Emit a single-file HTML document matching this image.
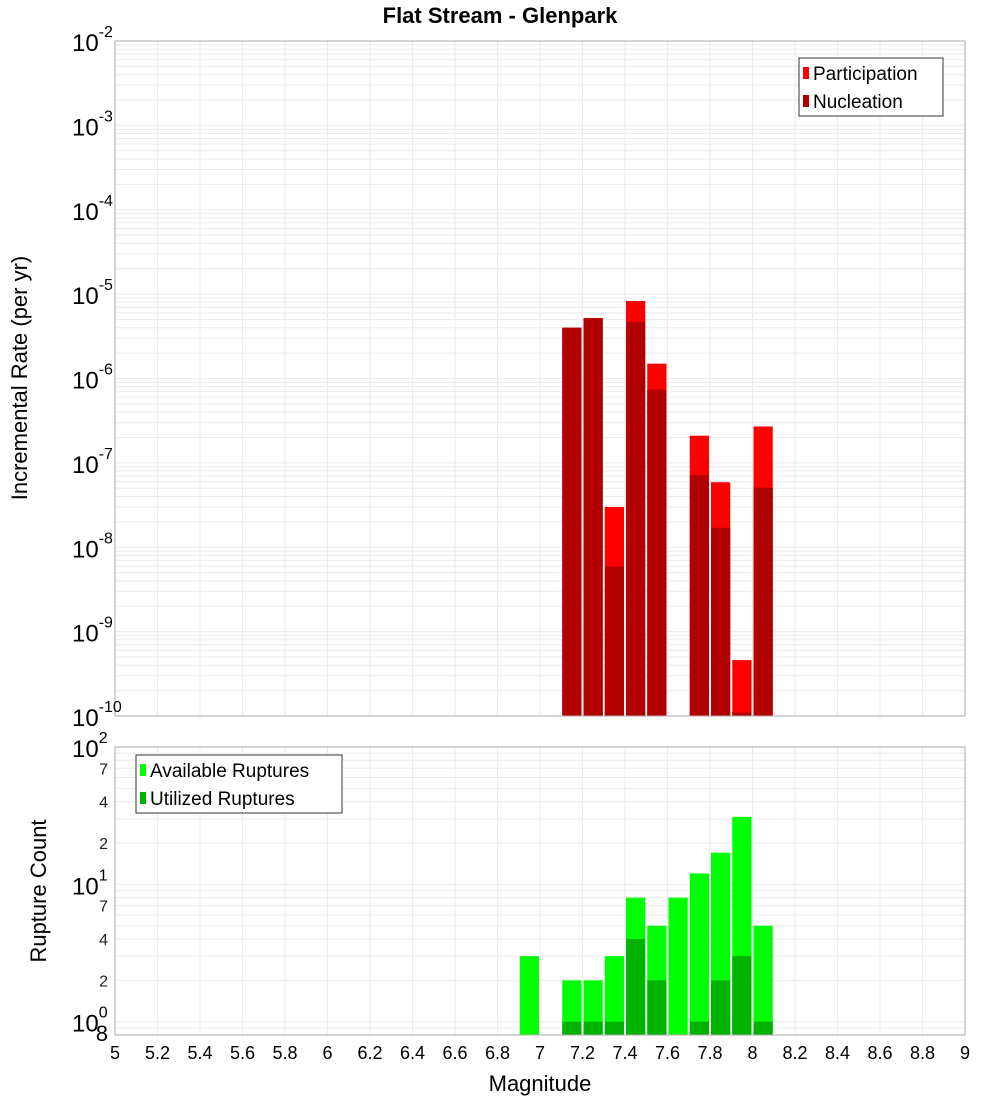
<!DOCTYPE html>
<html><head><meta charset="utf-8"><style>
body{margin:0;background:#fff;}
svg{display:block;font-family:"Liberation Sans","DejaVu Sans",sans-serif;}
</style></head><body>
<svg id="c" width="1000" height="1100" viewBox="0 0 1000 1100" xmlns="http://www.w3.org/2000/svg">
<text x="500" y="23" text-anchor="middle" font-size="22" font-weight="bold">Flat Stream - Glenpark</text>
<g id="g"></g>
</svg>
<script>
const bins = [6.95,7.15,7.25,7.35,7.45,7.55,7.65,7.75,7.85,7.95,8.05];
const participation = [0,4.0e-6,5.2e-6,3.0e-8,8.3e-6,1.5e-6,0,2.1e-7,5.9e-8,4.6e-10,2.7e-7];
const nucleation = [0,4.0e-6,5.2e-6,5.9e-9,4.7e-6,7.4e-7,0,7.2e-8,1.7e-8,1.1e-10,5.1e-8];
const available = [3,2,2,3,8,5,8,12,17,31,5];
const utilized = [0,1,1,1,4,2,0,1,2,3,1];
const xTicks = [5,5.2,5.4,5.6,5.8,6,6.2,6.4,6.6,6.8,7,7.2,7.4,7.6,7.8,8,8.2,8.4,8.6,8.8,9];

const NS="http://www.w3.org/2000/svg";
const g=document.getElementById('g');
function el(t,a,txt){const e=document.createElementNS(NS,t);for(const k in a)e.setAttribute(k,a[k]);if(txt!==undefined)e.textContent=txt;g.appendChild(e);return e;}
const L=115,R=965;
const x=m=>L+(m-5)/4*(R-L);
const T1=41,B1=716;
const y1=v=>T1+(-2-Math.log10(v))/8*(B1-T1);
const T2=747,B2=1035,lmin=Math.log10(0.8);
const y2=v=>T2+(2-Math.log10(v))/(2-lmin)*(B2-T2);

// panel backgrounds & grids
function grid(top,bot,yf,decs,minMax){
  for(const t of xTicks){const l=el('line',{x1:x(t),x2:x(t),y1:top,y2:bot,stroke:'#ebebeb','stroke-width':1});
  }
  for(const d of decs){for(let k=1;k<10;k++){const v=k*Math.pow(10,d);const yy=yf(v);if(yy<top-0.5||yy>bot+0.5)continue;
    const l=el('line',{x1:L,x2:R,y1:yy,y2:yy,stroke:'#ebebeb','stroke-width':1});
    }}
}
grid(T1,B1,y1,[-10,-9,-8,-7,-6,-5,-4,-3,-2]);
grid(T2,B2,y2,[-1,0,1,2]);

const bw=(x(5.1)-x(5))-2;
// top bars
bins.forEach((b,i)=>{
  const x0=x(b-0.05)+1;
  if(participation[i]>0){const r=el('rect',{x:x0,y:y1(participation[i]),width:bw,height:B1-y1(participation[i]),fill:'#ff0000'});
  }
  if(nucleation[i]>0){const r=el('rect',{x:x0,y:y1(nucleation[i]),width:bw,height:B1-y1(nucleation[i]),fill:'#b20000'});
  }
});
bins.forEach((b,i)=>{
  const x0=x(b-0.05)+1;
  if(available[i]>0){const r=el('rect',{x:x0,y:y2(available[i]),width:bw,height:B2-y2(available[i]),fill:'#00ff00'});
  }
  if(utilized[i]>0){const r=el('rect',{x:x0,y:y2(utilized[i]),width:bw,height:B2-y2(utilized[i]),fill:'#00b200'});
  }
});
// frames
let f=el('rect',{x:L,y:T1,width:R-L,height:B1-T1,fill:'none',stroke:'#aaa'});
f=el('rect',{x:L,y:T2,width:R-L,height:B2-T2,fill:'none',stroke:'#aaa'});

// top y labels
for(let d=-10;d<=-2;d++){const yy=y1(Math.pow(10,d));
  const t=el('text',{x:72,y:yy+10,'font-size':24});
  t.textContent='10';const s=document.createElementNS(NS,'tspan');s.setAttribute('dy','-14');s.setAttribute('font-size','16');s.textContent=String(d);t.appendChild(s);}
// bottom y labels
for(let d=0;d<=2;d++){const yy=y2(Math.pow(10,d));
  const t=el('text',{x:72,y:yy+10,'font-size':24});
  t.textContent='10';const s=document.createElementNS(NS,'tspan');s.setAttribute('dy','-14');s.setAttribute('font-size','16');s.textContent=String(d);t.appendChild(s);}
for(const d of [0,1])for(const k of [2,4,7]){const yy=y2(k*Math.pow(10,d));
  const t=el('text',{x:108,y:yy+6,'font-size':16,'text-anchor':'end',fill:'#222'},String(k));}
let t8=el('text',{x:108,y:y2(0.8)+6,'font-size':22,'text-anchor':'end'},'8');

// x labels
for(const t of xTicks){const tt=el('text',{x:x(t),y:1059,'font-size':18,'text-anchor':'middle'},String(t));
  }
let at=el('text',{x:540,y:1091,'font-size':22,'text-anchor':'middle'},'Magnitude');
at=el('text',{x:0,y:0,'font-size':22,'text-anchor':'middle',transform:'translate(27,378) rotate(-90)'},'Incremental Rate (per yr)');
at=el('text',{x:0,y:0,'font-size':22,'text-anchor':'middle',transform:'translate(46,891) rotate(-90)'},'Rupture Count');

// legends
function legend(x0,y0,w,items,name){
  const b=el('rect',{x:x0,y:y0,width:w,height:58,fill:'#fff',stroke:'#333'});
  items.forEach((it,i)=>{const yy=y0+15+i*28;
    const s=el('rect',{x:x0+4,y:yy-6,width:6,height:12,fill:it[1]});
    const t=el('text',{x:x0+14,y:yy+7,'font-size':19},it[0]);});
}
legend(799,58,144,[['Participation','#ff0000'],['Nucleation','#b20000']],'top-legend');
legend(136,755,206,[['Available Ruptures','#00ff00'],['Utilized Ruptures','#00b200']],'bottom-legend');
</script>
</body></html>
